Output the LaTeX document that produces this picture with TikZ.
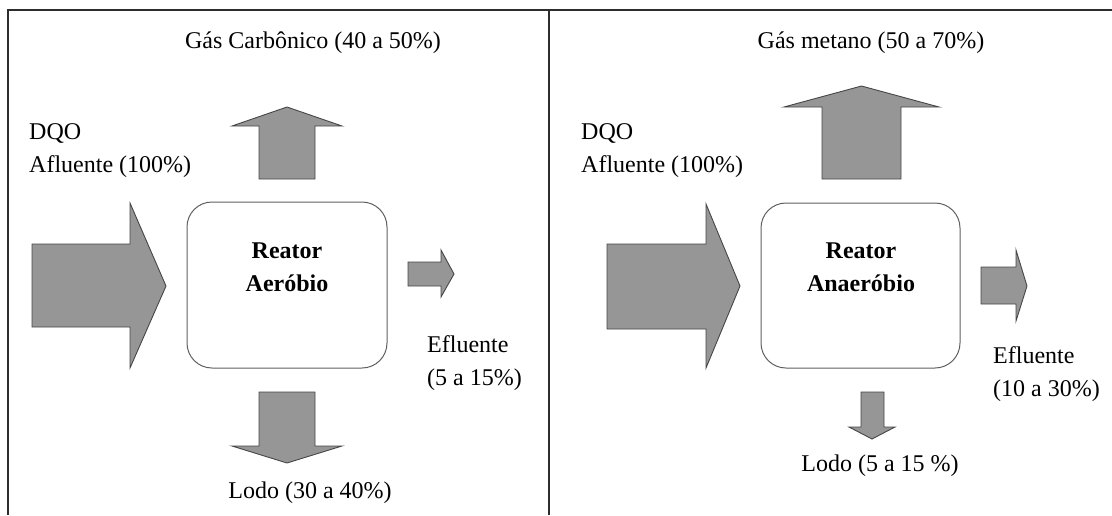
\documentclass[tikz,border=0pt]{standalone}
\usepackage{fontspec}
\setmainfont{Liberation Serif}
\definecolor{arrowfill}{RGB}{150,150,150}
\definecolor{arrowedge}{RGB}{70,70,70}
\definecolor{boxedge}{RGB}{95,95,95}
\definecolor{frameline}{RGB}{45,45,45}
\newcommand{\labelFont}[0]{\fontsize{24}{33}\selectfont}

\begin{document}
\begin{tikzpicture}[x=1pt, y=-1pt]
  \tikzset{every node/.style={inner sep=0pt, font=\labelFont},
           blockarrow/.style={fill=arrowfill, draw=arrowedge, line width=0.9pt, line join=miter},
           reactorbox/.style={draw=boxedge, line width=1pt, rounded corners=25pt,
                              minimum width=200pt, minimum height=166pt},
           flowtext/.style={align=left, anchor=west}}
  \useasboundingbox (0,0) rectangle (1112,515);
  % frame
  \draw[frameline, line width=1.5pt] (8,515) -- (8,10) -- (1112,10);
  \draw[frameline, line width=1.5pt] (549,10) -- (549,515);

  % aerobic reactor
  \node[reactorbox] (aerbox) at (287,285) {};
  \node[font=\labelFont\bfseries, align=center] (aertext) at (287,267.5) {Reator\\Aeróbio};
  \node[anchor=base] (aergas) at (313,48) {Gás Carbônico (40 a 50\%)};
  \node[flowtext] (aerdqo) at (29,151) {DQO\\Afluente (100\%)};
  \node[flowtext] (aereff) at (427,363) {Efluente\\(5 a 15\%)};
  \node[anchor=base] (aerlodo) at (310,498) {Lodo (30 a 40\%)};
  \draw[blockarrow] (259,179) -- (259,126) -- (232,126) -- (287,107) -- (342,126) -- (315,126) -- (315,179) -- cycle;
  \draw[blockarrow] (32,244) -- (130,244) -- (130,203) -- (166,286) -- (130,368) -- (130,327) -- (32,327) -- cycle;
  \draw[blockarrow] (408,262) -- (441,262) -- (441,250) -- (454,274) -- (441,297) -- (441,286) -- (408,286) -- cycle;
  \draw[blockarrow] (259,392) -- (315,392) -- (315,446) -- (342,446) -- (287,463) -- (232,446) -- (259,446) -- cycle;

  % anaerobic reactor
  \node[reactorbox, minimum width=199pt, minimum height=165pt] (anabox) at (860.5,285.5) {};
  \node[font=\labelFont\bfseries, align=center] (anatext) at (861,267.5) {Reator\\Anaeróbio};
  \node[anchor=base] (anagas) at (871,48) {Gás metano (50 a 70\%)};
  \node[flowtext] (anadqo) at (581,151) {DQO\\Afluente (100\%)};
  \node[flowtext] (anaeff) at (993,374) {Efluente\\(10 a 30\%)};
  \node[anchor=base] (analodo) at (880,471) {Lodo (5 a 15 \%)};
  \draw[blockarrow] (822,179) -- (822,107) -- (784,107) -- (861.5,86) -- (939,107) -- (901,107) -- (901,179) -- cycle;
  \draw[blockarrow] (607,244) -- (706,244) -- (706,204) -- (740,286) -- (706,368) -- (706,329) -- (607,329) -- cycle;
  \draw[blockarrow] (981,267) -- (1016,267) -- (1016,250) -- (1027,286) -- (1016,321) -- (1016,304) -- (981,304) -- cycle;
  \draw[blockarrow] (861,392) -- (884,392) -- (884,427) -- (895,427) -- (872,439) -- (849,427) -- (861,427) -- cycle;
\end{tikzpicture}
\end{document}
